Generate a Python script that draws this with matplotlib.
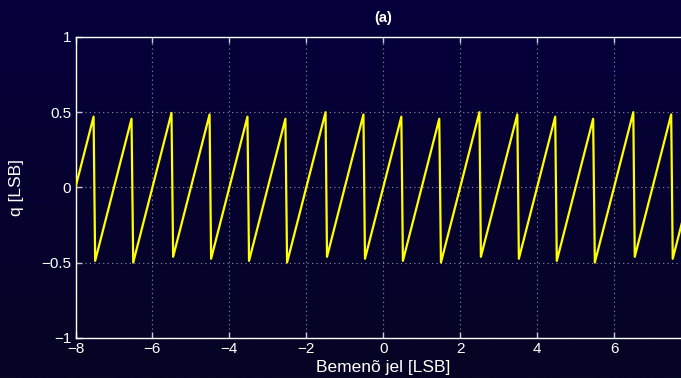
import numpy as np
import matplotlib
matplotlib.use("Agg")
import matplotlib.pyplot as plt

# quantisation error vertices (input [LSB], q [LSB])
x_vertices = [-8.0,
              -7.53, -7.489, -6.544, -6.50, -5.505, -5.462, -4.515, -4.475,
              -3.53, -3.489, -2.544, -2.50, -1.50, -1.462, -0.515, -0.475,
              0.47, 0.511, 1.456, 1.50, 2.50, 2.538, 3.485, 3.525,
              4.47, 4.511, 5.456, 5.50, 6.50, 6.538, 7.485, 7.525,
              8.0]
q_vertices = [0.0,
              0.47, -0.489, 0.456, -0.50, 0.495, -0.462, 0.485, -0.475,
              0.47, -0.489, 0.456, -0.50, 0.50, -0.462, 0.485, -0.475,
              0.47, -0.489, 0.456, -0.50, 0.50, -0.462, 0.485, -0.475,
              0.47, -0.489, 0.456, -0.50, 0.50, -0.462, 0.485, -0.475,
              0.0]

# the tick at 8 sits past the right edge of the picture, so it is left out
x_ticks = [-8, -6, -4, -2, 0, 2, 4, 6]
y_ticks = [-1, -0.5, 0, 0.5, 1]
y_ticklabels = ["\u22121", "\u22120.5", "0", "0.5", "1"]

plt.rcParams['font.family'] = ['Liberation Sans', 'DejaVu Sans']

fig = plt.figure(figsize=(6.81, 3.78), dpi=100)

# background gradient over the whole figure
bg = fig.add_axes([0, 0, 1, 1], zorder=-10)
top = np.array([5, 0, 60]) / 255.0
bot = np.array([6, 5, 36]) / 255.0
t = np.linspace(0, 1, 256)[:, None]
grad = (top[None, :] * (1 - t) + bot[None, :] * t)[:, None, :]
bg.imshow(grad, aspect='auto', extent=[0, 1, 0, 1])
bg.set_axis_off()

ax = fig.add_axes([75.5 / 681, 40.3 / 378, 615.5 / 681, 300.7 / 378])
ax.set_facecolor('none')
ax.plot(x_vertices, q_vertices, color='#ffff00', lw=1.6, zorder=3)

ax.set_xlim(-8, 8)
ax.set_ylim(-1, 1)
ax.set_xticks(x_ticks)
ax.set_xticklabels([str(v).replace('-', '\u2212') for v in x_ticks])
ax.set_yticks(y_ticks)
ax.set_yticklabels(y_ticklabels)

for s in ax.spines.values():
    s.set_color('white')
    s.set_linewidth(1.0)
ax.tick_params(direction='in', length=4, width=1, color='#c8c8d0',
               labelcolor='white', labelsize=11, top=True, right=True, pad=3)
ax.grid(True, color='#9090aa', linestyle=(0, (1, 3)), linewidth=0.8)

ax.set_title('(a)', color='white', fontsize=10.5, fontweight='bold', pad=11)
ax.set_xlabel('Bemen\u00f5 jel [LSB]', color='white', fontsize=12.5, labelpad=-1)
ax.xaxis.set_label_coords(0.5, -0.075)
ax.set_ylabel('q [LSB]', color='white', fontsize=12.5, labelpad=-2)
ax.yaxis.set_label_coords(-0.083, 0.5)

fig.savefig('out.png', dpi=100)
